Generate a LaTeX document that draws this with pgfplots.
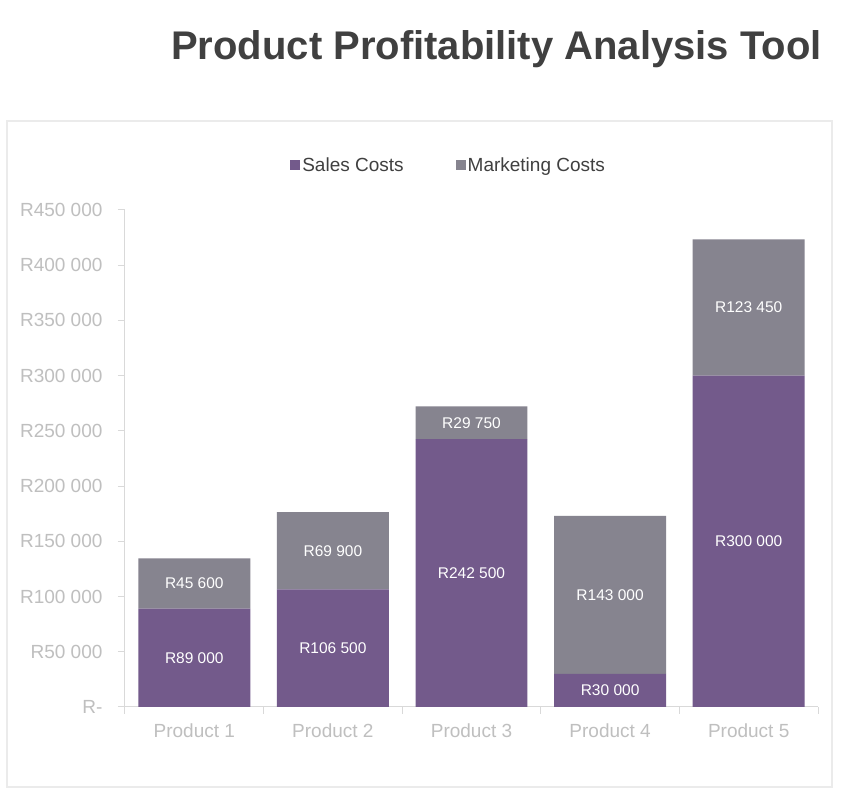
\documentclass[border=0pt]{standalone}
\usepackage{pgfplots}
\usepackage{pgfplotstable}
\pgfplotsset{compat=1.18}
\usepackage{fontspec}
\setmainfont{Liberation Sans}
\definecolor{salescol}{HTML}{735A8B}
\definecolor{mktcol}{HTML}{86848F}
\definecolor{ticktxt}{HTML}{BFBFBF}
\definecolor{axline}{HTML}{D9D9D9}
\definecolor{titlecol}{HTML}{404040}
\definecolor{framecol}{HTML}{EBEBEB}

\pgfplotstableread{
x sales mkt
0 89000 45600
1 106500 69900
2 242500 29750
3 30000 143000
4 300000 123450
}\datatable

\pgfplotsset{
 basestyle/.style={
  at={(125pt,87pt)}, anchor=south west,
  scale only axis, width=693pt, height=497pt,
  xmin=-0.5, xmax=4.5, ymin=0, ymax=450000,
  /pgf/number format/assume math mode=true,
  scaled y ticks=false,
 }
}

\begin{document}
\begin{tikzpicture}[x=1pt,y=1pt]
\useasboundingbox (0,0) rectangle (846,794);
\fill[white] (0,0) rectangle (846,794);
\draw[framecol, line width=1.5pt] (7,7) rectangle (832,673);
\node[anchor=base, text=titlecol, font=\fontsize{40}{48}\selectfont\bfseries] at (496.5,734) {Product Profitability Analysis Tool};
\begin{axis}[basestyle,
  ybar stacked, bar width=0.808,
  axis x line*=bottom, axis y line*=left,
  axis line style={axline, line width=1pt},
  tick align=outside,
  major tick length=7pt, minor tick length=7pt,
  ytick={0,50000,100000,150000,200000,250000,300000,350000,400000,450000},
  yticklabels={R-,{R50 000},{R100 000},{R150 000},{R200 000},{R250 000},{R300 000},{R350 000},{R400 000},{R450 000}},
  major y tick style={axline, line width=1pt},
  xtick={0,1,2,3,4},
  xticklabels={Product 1,Product 2,Product 3,Product 4,Product 5},
  major x tick style={draw=none},
  minor xtick={-0.5,0.5,1.5,2.5,3.5,4.5},
  minor x tick style={axline, line width=1pt},
  ticklabel style={font=\fontsize{19}{22}\selectfont, text=ticktxt},
  yticklabel style={xshift=-12pt},
  xticklabel style={yshift=-6pt},
  legend style={at={(0.467,1.0905)}, anchor=center, draw=none, fill=none,
    legend columns=2, font=\fontsize{19}{22}\selectfont, text=titlecol,
    /tikz/every even column/.append style={column sep=50pt}},
]
\addplot[fill=salescol, draw=none, legend image code/.code={\fill[salescol] (0pt,-5pt) rectangle (10pt,5pt);}] table[x=x,y=sales]{\datatable};
\addplot[fill=mktcol, draw=none, legend image code/.code={\fill[mktcol] (0pt,-5pt) rectangle (10pt,5pt);}] table[x=x,y=mkt]{\datatable};
\legend{Sales Costs, Marketing Costs}
\end{axis}
\begin{axis}[basestyle, hide axis,
  nodes near coords={R\pgfmathprintnumber[fixed, precision=0, 1000 sep={\ }]{\pgfplotspointmeta}},
  every node near coord/.append style={anchor=center, text=white, font=\fontsize{15.5}{18}\selectfont},
  point meta=explicit,
]
\addplot[draw=none, mark=none] table[x=x, y expr=0.5*\thisrow{sales}, meta=sales]{\datatable};
\addplot[draw=none, mark=none] table[x=x, y expr=\thisrow{sales}+0.5*\thisrow{mkt}, meta=mkt]{\datatable};
\end{axis}
\end{tikzpicture}
\end{document}
